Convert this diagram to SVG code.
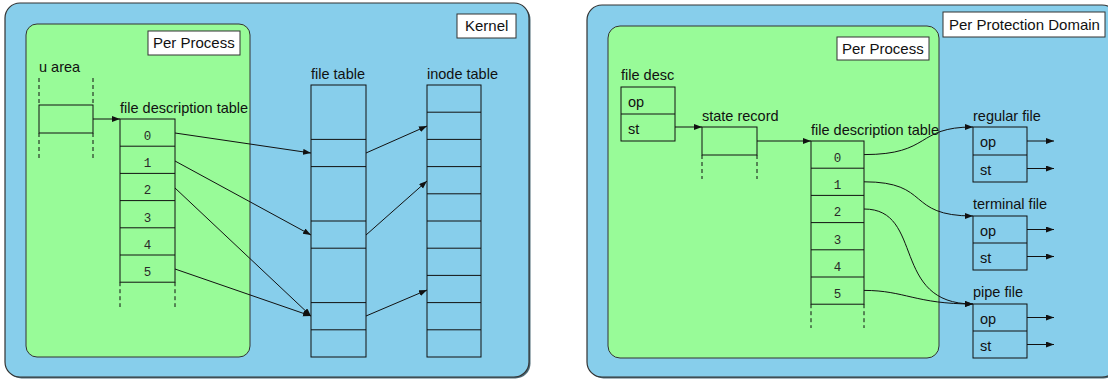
<svg xmlns="http://www.w3.org/2000/svg" width="1108" height="380" viewBox="0 0 1108 380">
  <style>
    .panel { fill: #87ceeb; stroke: #333; stroke-width: 1.2; }
    .shadow { fill: #4d6a76; }
    .proc { fill: #98fb98; stroke: #333; stroke-width: 1; }
    .tag { fill: #fff; stroke: #333; stroke-width: 1; }
    .cell { fill: none; stroke: #111; stroke-width: 1; }
    .dash { fill: none; stroke: #111; stroke-width: 1; stroke-dasharray: 4 3; }
    .lbl { font-family: "Liberation Sans", Arial, sans-serif; font-size: 14.5px; fill: #111; }
    .big { font-family: "Liberation Sans", Arial, sans-serif; font-size: 15px; fill: #111; }
    .num { font-family: "Liberation Mono", "Courier New", monospace; font-size: 12.5px; fill: #2a2a2a; text-anchor: middle; }
    .link { fill: none; stroke: #111; stroke-width: 1; marker-end: url(#arrow); }
  </style>
  <defs>
    <marker id="arrow" markerUnits="userSpaceOnUse" markerWidth="9" markerHeight="7" refX="8" refY="3" orient="auto">
      <path d="M0,0 L8,3 L0,6 z" fill="#111"/>
    </marker>
  </defs>

  <!-- Left: kernel view -->
  <g id="kernel">
    <rect class="shadow" x="6.5" y="4.5" width="524" height="374" rx="15"/>
    <rect class="panel" x="5" y="3" width="524" height="374" rx="15"/>
    <rect class="tag" x="457" y="14" width="59" height="24"/>
    <text class="big" x="465" y="31">Kernel</text>
  </g>

  <g id="per-process-left">
    <rect class="proc" x="26" y="24" width="224" height="333" rx="11"/>
    <rect class="tag" x="148" y="31" width="92" height="24"/>
    <text class="big" x="153" y="48">Per Process</text>
  </g>

  <g id="u-area">
    <text class="lbl" x="39" y="72">u area</text>
    <line class="dash" x1="39" y1="78" x2="39" y2="105"/>
    <line class="dash" x1="93" y1="78" x2="93" y2="105"/>
    <rect class="cell" x="39" y="105" width="54" height="28"/>
    <line class="dash" x1="39" y1="133" x2="39" y2="158"/>
    <line class="dash" x1="93" y1="133" x2="93" y2="158"/>
  </g>

  <g id="fd-table-left">
    <text class="lbl" x="120" y="113">file description table</text>
    <rect class="cell" x="120" y="119" width="55" height="163.2"/>
    <line class="cell" x1="120" y1="146.2" x2="175" y2="146.2"/>
    <line class="cell" x1="120" y1="173.4" x2="175" y2="173.4"/>
    <line class="cell" x1="120" y1="200.6" x2="175" y2="200.6"/>
    <line class="cell" x1="120" y1="227.8" x2="175" y2="227.8"/>
    <line class="cell" x1="120" y1="255" x2="175" y2="255"/>
    <text class="num" x="147.5" y="140">0</text>
    <text class="num" x="147.5" y="167.2">1</text>
    <text class="num" x="147.5" y="194.4">2</text>
    <text class="num" x="147.5" y="221.6">3</text>
    <text class="num" x="147.5" y="248.8">4</text>
    <text class="num" x="147.5" y="276">5</text>
    <line class="dash" x1="120" y1="282.2" x2="120" y2="307"/>
    <line class="dash" x1="175" y1="282.2" x2="175" y2="307"/>
  </g>

  <g id="file-table">
    <text class="lbl" x="311" y="79">file table</text>
    <rect class="cell" x="311" y="85" width="55" height="272"/>
    <line class="cell" x1="311" y1="139.4" x2="366" y2="139.4"/>
    <line class="cell" x1="311" y1="166.6" x2="366" y2="166.6"/>
    <line class="cell" x1="311" y1="221" x2="366" y2="221"/>
    <line class="cell" x1="311" y1="248.2" x2="366" y2="248.2"/>
    <line class="cell" x1="311" y1="302.6" x2="366" y2="302.6"/>
    <line class="cell" x1="311" y1="329.8" x2="366" y2="329.8"/>
  </g>

  <g id="inode-table">
    <text class="lbl" x="427" y="79">inode table</text>
    <rect class="cell" x="427" y="85" width="54" height="272"/>
    <line class="cell" x1="427" y1="112.2" x2="481" y2="112.2"/>
    <line class="cell" x1="427" y1="139.4" x2="481" y2="139.4"/>
    <line class="cell" x1="427" y1="166.6" x2="481" y2="166.6"/>
    <line class="cell" x1="427" y1="193.8" x2="481" y2="193.8"/>
    <line class="cell" x1="427" y1="221" x2="481" y2="221"/>
    <line class="cell" x1="427" y1="248.2" x2="481" y2="248.2"/>
    <line class="cell" x1="427" y1="275.4" x2="481" y2="275.4"/>
    <line class="cell" x1="427" y1="302.6" x2="481" y2="302.6"/>
    <line class="cell" x1="427" y1="329.8" x2="481" y2="329.8"/>
  </g>

  <!-- Right: protection domain view -->
  <g id="protection-domain">
    <rect class="shadow" x="588.5" y="6.5" width="530" height="372" rx="15"/>
    <rect class="panel" x="587" y="5" width="530" height="372" rx="15"/>
    <rect class="tag" x="943" y="12" width="162" height="25"/>
    <text class="big" x="949" y="30">Per Protection Domain</text>
  </g>

  <g id="per-process-right">
    <rect class="proc" x="608" y="26" width="331" height="332" rx="12"/>
    <rect class="tag" x="837" y="37" width="92" height="23"/>
    <text class="big" x="842" y="54">Per Process</text>
  </g>

  <g id="file-desc">
    <text class="lbl" x="621" y="80">file desc</text>
    <rect class="cell" x="621" y="87" width="54" height="54"/>
    <line class="cell" x1="621" y1="114" x2="675" y2="114"/>
    <text class="lbl" x="628" y="107">op</text>
    <text class="lbl" x="628" y="134">st</text>
  </g>

  <g id="state-record">
    <text class="lbl" x="702" y="121">state record</text>
    <rect class="cell" x="702" y="127" width="55" height="28"/>
    <line class="dash" x1="702" y1="155" x2="702" y2="179"/>
    <line class="dash" x1="757" y1="155" x2="757" y2="179"/>
  </g>

  <g id="fd-table-right">
    <text class="lbl" x="811" y="135">file description table</text>
    <rect class="cell" x="811" y="141" width="53" height="163.2"/>
    <line class="cell" x1="811" y1="168.2" x2="864" y2="168.2"/>
    <line class="cell" x1="811" y1="195.4" x2="864" y2="195.4"/>
    <line class="cell" x1="811" y1="222.6" x2="864" y2="222.6"/>
    <line class="cell" x1="811" y1="249.8" x2="864" y2="249.8"/>
    <line class="cell" x1="811" y1="277" x2="864" y2="277"/>
    <text class="num" x="837.5" y="162">0</text>
    <text class="num" x="837.5" y="189.2">1</text>
    <text class="num" x="837.5" y="216.4">2</text>
    <text class="num" x="837.5" y="243.6">3</text>
    <text class="num" x="837.5" y="270.8">4</text>
    <text class="num" x="837.5" y="298">5</text>
    <line class="dash" x1="811" y1="304.2" x2="811" y2="328"/>
    <line class="dash" x1="864" y1="304.2" x2="864" y2="328"/>
  </g>

  <g id="regular-file">
    <text class="lbl" x="973" y="121">regular file</text>
    <rect class="cell" x="973" y="127" width="54" height="55"/>
    <line class="cell" x1="973" y1="155" x2="1027" y2="155"/>
    <text class="lbl" x="980" y="147">op</text>
    <text class="lbl" x="980" y="175">st</text>
  </g>

  <g id="terminal-file">
    <text class="lbl" x="973" y="209">terminal file</text>
    <rect class="cell" x="973" y="216" width="54" height="54"/>
    <line class="cell" x1="973" y1="243" x2="1027" y2="243"/>
    <text class="lbl" x="980" y="236">op</text>
    <text class="lbl" x="980" y="263">st</text>
  </g>

  <g id="pipe-file">
    <text class="lbl" x="973" y="297">pipe file</text>
    <rect class="cell" x="973" y="304" width="54" height="54"/>
    <line class="cell" x1="973" y1="331" x2="1027" y2="331"/>
    <text class="lbl" x="980" y="324">op</text>
    <text class="lbl" x="980" y="351">st</text>
  </g>

  <!-- Connectors -->
  <g id="connectors">
    <line class="link" x1="93" y1="119" x2="120" y2="119"/>
    <line class="link" x1="175" y1="133" x2="311" y2="153"/>
    <line class="link" x1="175" y1="161" x2="311" y2="235"/>
    <line class="link" x1="175" y1="188" x2="311" y2="316"/>
    <line class="link" x1="175" y1="269" x2="311" y2="316"/>
    <line class="link" x1="366" y1="153" x2="427" y2="126"/>
    <line class="link" x1="366" y1="235" x2="427" y2="181"/>
    <line class="link" x1="366" y1="316" x2="427" y2="290"/>

    <line class="link" x1="675" y1="127" x2="702" y2="127"/>
    <line class="link" x1="757" y1="141" x2="811" y2="141"/>
    <path class="link" d="M864,154.6 C932,154.6 915,127 973,127"/>
    <path class="link" d="M864,181.8 C932,181.8 905,216 973,216"/>
    <path class="link" d="M864,209 C925,209 890,304 973,304"/>
    <path class="link" d="M864,290.4 C905,290.4 915,304 973,304"/>

    <line class="link" x1="1027" y1="141" x2="1054" y2="141"/>
    <line class="link" x1="1027" y1="168.5" x2="1054" y2="168.5"/>
    <line class="link" x1="1027" y1="229.5" x2="1054" y2="229.5"/>
    <line class="link" x1="1027" y1="256.5" x2="1054" y2="256.5"/>
    <line class="link" x1="1027" y1="317.5" x2="1054" y2="317.5"/>
    <line class="link" x1="1027" y1="344.5" x2="1054" y2="344.5"/>
  </g>
</svg>
